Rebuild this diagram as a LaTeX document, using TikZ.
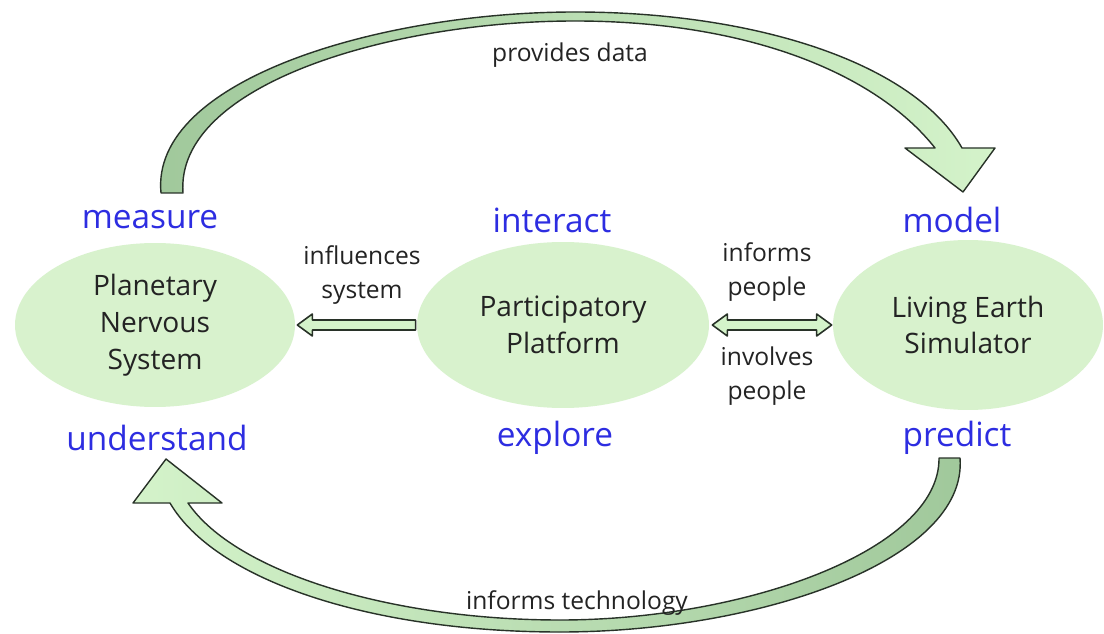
\documentclass[tikz,border=0pt]{standalone}
\usepackage{fontspec}
\setmainfont{Open Sans}
\usetikzlibrary{calc,shapes.geometric}
\definecolor{blobgreen}{RGB}{216,242,205}
\definecolor{bandlight}{RGB}{212,243,202}
\definecolor{banddark}{RGB}{160,200,155}
\definecolor{labelblue}{RGB}{45,45,225}
\definecolor{inktext}{RGB}{35,35,35}
\definecolor{edgegray}{RGB}{40,50,40}
\tikzset{
  blob/.style={ellipse, fill=blobgreen, inner sep=0pt, align=center, text=inktext,
    font=\fontsize{16}{21}\selectfont},
  verb/.style={text=labelblue, font=\fontsize{19}{22}\selectfont},
  note/.style={text=inktext, align=center, font=\fontsize{14}{19}\selectfont},
  band/.style={draw=edgegray, line width=0.8pt, line join=round},
  flat/.style={draw=edgegray, fill=bandlight, line width=0.9pt, line join=round}
}
\begin{document}
\begin{tikzpicture}[x=0.02cm,y=-0.02cm]
  \fill[white] (0,0) rectangle (1104,634);
  \useasboundingbox (0,0) rectangle (1104,634);
  % the three parts
  \node[blob, minimum width=5.6cm, minimum height=3.28cm] (pns) at (155,325) {Planetary\\Nervous\\System};
  \node[blob, minimum width=5.84cm, minimum height=3.32cm] (pp) at (563,325) {Participatory\\Platform};
  \node[blob, minimum width=5.4cm, minimum height=3.4cm] (les) at (968,325) {Living Earth\\Simulator};
  % verbs
  \node[verb] (measure) at (150,220) {measure};
  \node[verb] (interact) at (552,220) {interact};
  \node[verb] (model) at (952,220) {model};
  \node[verb] (understand) at (157,438) {understand};
  \node[verb] (explore) at (555,438) {explore};
  \node[verb] (predict) at (957,438) {predict};
  % big curved arrows
  \path[band, left color=banddark, right color=bandlight]
    (161,193) .. controls (150,80) and (380,12) .. (575,12)
    .. controls (760,12) and (915,65) .. (962,148)
    -- (995,148) -- (963,192) -- (905,148) -- (935,148)
    .. controls (875,72) and (745,21) .. (575,21)
    .. controls (390,21) and (175,85) .. (183,193) -- cycle;
  \path[band, left color=bandlight, right color=banddark]
    (960,458) .. controls (968,560) and (760,632) .. (560,632)
    .. controls (370,632) and (215,580) .. (170,503)
    -- (133,503) -- (166,459) -- (222,503) -- (188,503)
    .. controls (235,572) and (390,620) .. (560,620)
    .. controls (745,620) and (940,550) .. (939,458) -- cycle;
  % flat arrows
  \draw[flat] ($(pns.east)+(2,0)$) -- ++(15,-11) -- ++(0,6) -- ($(pp.west)+(-1,-5)$)
    -- ++(0,10) -- ($(pns.east)+(17,5)$) -- ++(0,6) -- cycle;
  \draw[flat] ($(pp.east)+(3,0)$) -- ++(15,-11) -- ++(0,6) -- ($(les.west)+(-16,-5)$)
    -- ++(0,-6) -- ($(les.west)+(-1,0)$) -- ++(-15,11) -- ++(0,-6)
    -- ($(pp.east)+(18,5)$) -- ++(0,6) -- cycle;
  % labels
  \node[note] (provides) at (570,55) {provides data};
  \node[note] (influences) at (362,275) {influences\\system};
  \node[note] (informs) at (767,272) {informs\\people};
  \node[note] (involves) at (767,376) {involves\\people};
  \node[note] (technology) at (577,603) {informs technology};
\end{tikzpicture}
\end{document}
